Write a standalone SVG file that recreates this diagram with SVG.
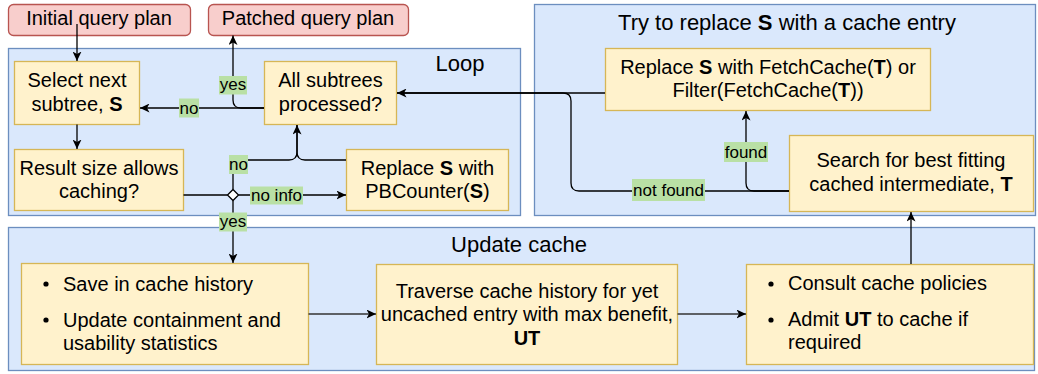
<svg xmlns="http://www.w3.org/2000/svg" width="1038" height="374" viewBox="0 0 1038 374">
  <style>
    text { font-family: "Liberation Sans", Arial, Helvetica, sans-serif; fill: #000; }
    .container { fill: #dae8fc; stroke: #6c8ebf; stroke-width: 1.3; }
    .step { fill: #fff2cc; stroke: #d6b656; stroke-width: 1.3; }
    .io { fill: #f8cecc; stroke: #b85450; stroke-width: 1.3; }
    .title { font-size: 22px; }
    .body { font-size: 20px; }
    .mid { text-anchor: middle; }
    .b { font-weight: bold; }
    .edge { fill: none; stroke: #000; stroke-width: 1.3; }
    .edge-dark { fill: none; stroke: #333; stroke-width: 1.6; }
    .lbl-bg { fill: #b9e0a5; }
    .lbl { font-size: 17px; text-anchor: middle; }
  </style>
  <defs>
    <marker id="arrow" markerUnits="userSpaceOnUse" markerWidth="10" markerHeight="9" refX="9.5" refY="4.5" orient="auto">
      <path d="M0,0 L9.5,4.5 L0,9 L2.5,4.5 Z" fill="#000"/>
    </marker>
  </defs>

  <!-- containers -->
  <g id="loop-group">
    <rect class="container" x="8.5" y="48.5" width="512" height="167"/>
    <text class="title mid" x="460" y="71">Loop</text>
  </g>
  <g id="replace-group">
    <rect class="container" x="534.5" y="4.5" width="501" height="211"/>
    <text class="title mid" x="787" y="30">Try to replace <tspan class="b">S</tspan> with a cache entry</text>
  </g>
  <g id="update-group">
    <rect class="container" x="8.5" y="227.5" width="1026" height="143"/>
    <text class="title mid" x="519" y="252">Update cache</text>
  </g>

  <!-- terminals -->
  <g id="initial-plan">
    <rect class="io" x="8.5" y="4.5" width="182" height="31" rx="5"/>
    <text class="body mid" x="99" y="25">Initial query plan</text>
  </g>
  <g id="patched-plan">
    <rect class="io" x="208.5" y="4.5" width="200" height="31" rx="5"/>
    <text class="body mid" x="308" y="25">Patched query plan</text>
  </g>

  <!-- loop steps -->
  <g id="select-subtree">
    <rect class="step" x="14.5" y="61.5" width="125" height="63"/>
    <text class="body mid" x="77" y="87">Select next</text>
    <text class="body mid" x="77" y="110.5">subtree, <tspan class="b">S</tspan></text>
  </g>
  <g id="result-size">
    <rect class="step" x="14.5" y="149.5" width="169" height="61"/>
    <text class="body mid" x="99" y="174.5">Result size allows</text>
    <text class="body mid" x="99" y="198">caching?</text>
  </g>
  <g id="all-processed">
    <rect class="step" x="264.5" y="61.5" width="132" height="63"/>
    <text class="body mid" x="330.5" y="87">All subtrees</text>
    <text class="body mid" x="330.5" y="110.5">processed?</text>
  </g>
  <g id="pbcounter">
    <rect class="step" x="346.5" y="149.5" width="162" height="61"/>
    <text class="body mid" x="427.5" y="174.5">Replace <tspan class="b">S</tspan> with</text>
    <text class="body mid" x="427.5" y="198">PBCounter(<tspan class="b">S</tspan>)</text>
  </g>
  <g id="decision">
    <path d="M233,189.5 L238.5,195 L233,200.5 L227.5,195 Z" fill="#fff" stroke="#000" stroke-width="1.3"/>
  </g>

  <!-- cache lookup steps -->
  <g id="fetch-cache">
    <rect class="step" x="605.5" y="48.5" width="325" height="62"/>
    <text class="body mid" x="768" y="73.5">Replace <tspan class="b">S</tspan> with FetchCache(<tspan class="b">T</tspan>) or</text>
    <text class="body mid" x="768" y="97">Filter(FetchCache(<tspan class="b">T</tspan>))</text>
  </g>
  <g id="search-cached">
    <rect class="step" x="789.5" y="135.5" width="244" height="76"/>
    <text class="body mid" x="911" y="167">Search for best fitting</text>
    <text class="body mid" x="911" y="190.5">cached intermediate, <tspan class="b">T</tspan></text>
  </g>

  <!-- cache update steps -->
  <g id="save-history">
    <rect class="step" x="21.5" y="263.5" width="287" height="101"/>
    <circle cx="46" cy="284" r="2.6"/>
    <circle cx="46" cy="320" r="2.6"/>
    <text class="body" x="63" y="290.5">Save in cache history</text>
    <text class="body" x="63" y="326.5">Update containment and</text>
    <text class="body" x="63" y="349.5">usability statistics</text>
  </g>
  <g id="traverse-history">
    <rect class="step" x="376.5" y="264.5" width="301" height="100"/>
    <text class="body mid" x="527" y="297.5">Traverse cache history for yet</text>
    <text class="body mid" x="527" y="321">uncached entry with max benefit,</text>
    <text class="body mid b" x="527" y="344.5">UT</text>
  </g>
  <g id="consult-policies">
    <rect class="step" x="746.5" y="264.5" width="287" height="100"/>
    <circle cx="771" cy="284" r="2.6"/>
    <circle cx="771" cy="320" r="2.6"/>
    <text class="body" x="788" y="290">Consult cache policies</text>
    <text class="body" x="788" y="326">Admit <tspan class="b">UT</tspan> to cache if</text>
    <text class="body" x="788" y="349">required</text>
  </g>

  <!-- connectors -->
  <g id="connectors">
    <path class="edge" d="M77,24 V61" marker-end="url(#arrow)"/>
    <path class="edge" d="M77,124.5 V149" marker-end="url(#arrow)"/>
    <path class="edge" d="M264,108 H140" marker-end="url(#arrow)"/>
    <path class="edge" d="M264,108 H241 Q233,108 233,100 V35.5" marker-end="url(#arrow)"/>
    <path class="edge" d="M183.5,195 H227.5"/>
    <path class="edge" d="M238.5,195 H346" marker-end="url(#arrow)"/>
    <path class="edge" d="M233,189.5 V160 H289 Q297,160 297,152 V125" marker-end="url(#arrow)"/>
    <path class="edge" d="M346,160 H305 Q297,160 297,152 V125"/>
    <path class="edge" d="M233,200.5 V263" marker-end="url(#arrow)"/>
    <path class="edge" d="M605,93 H397" marker-end="url(#arrow)"/>
    <path class="edge" d="M789,191 H579 Q571,191 571,183 V101 Q571,93 563,93 H397"/>
    <path class="edge" d="M789,191 H754 Q746,191 746,183 V111" marker-end="url(#arrow)"/>
    <path class="edge" d="M911,264 V212" marker-end="url(#arrow)"/>
    <path class="edge-dark" d="M308.5,314 H376" marker-end="url(#arrow)"/>
    <path class="edge-dark" d="M677.5,314 H746" marker-end="url(#arrow)"/>

    <rect class="lbl-bg" x="179" y="98.5" width="20" height="19"/>
    <text class="lbl" x="189" y="114">no</text>
    <rect class="lbl-bg" x="219" y="76" width="28" height="18.5"/>
    <text class="lbl" x="233" y="90">yes</text>
    <rect class="lbl-bg" x="229" y="155" width="19" height="19"/>
    <text class="lbl" x="238.5" y="170">no</text>
    <rect class="lbl-bg" x="250" y="186.5" width="53" height="18"/>
    <text class="lbl" x="276.5" y="201">no info</text>
    <rect class="lbl-bg" x="219" y="212.5" width="28" height="19"/>
    <text class="lbl" x="233" y="227">yes</text>
    <rect class="lbl-bg" x="724" y="142" width="44" height="20"/>
    <text class="lbl" x="746" y="158">found</text>
    <rect class="lbl-bg" x="632" y="179" width="73" height="22"/>
    <text class="lbl" x="668.5" y="196">not found</text>
  </g>
</svg>
